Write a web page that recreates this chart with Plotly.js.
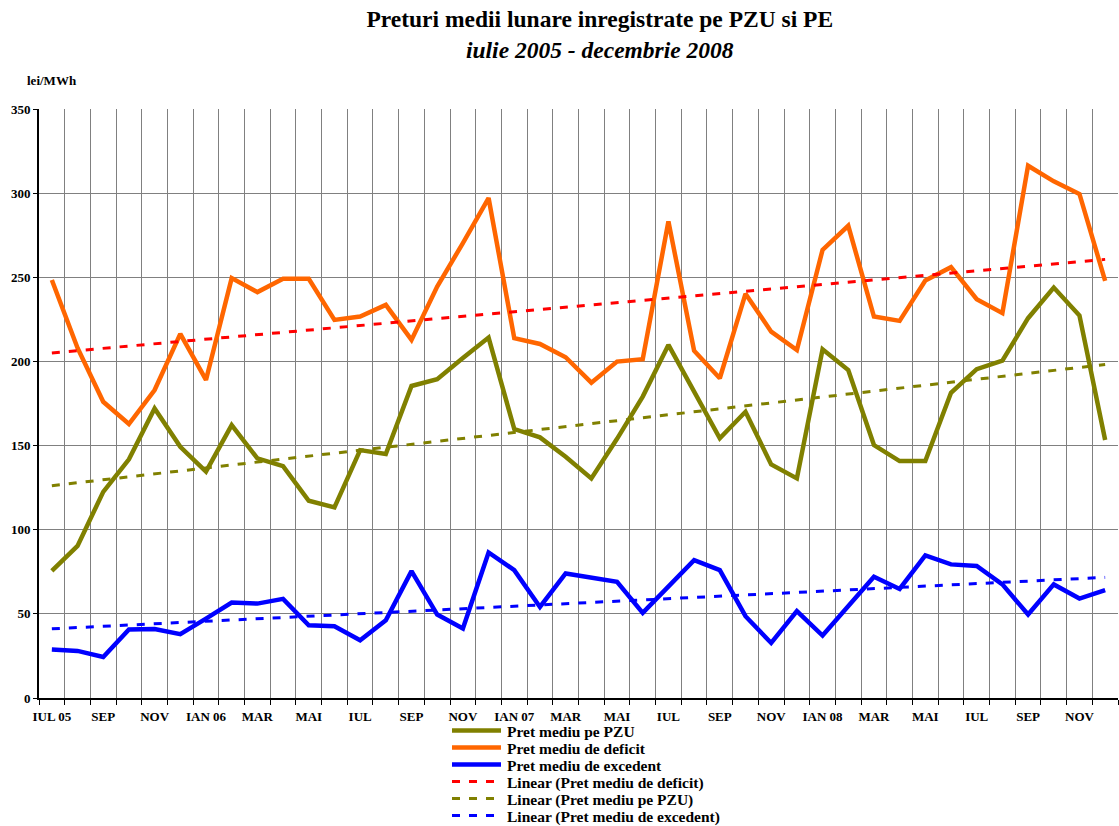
<!DOCTYPE html>
<html>
<head>
<meta charset="utf-8">
<script src="https://cdn.plot.ly/plotly-3.0.1.min.js"></script>
<style>html,body{margin:0;padding:0;background:#fff;}#chart{width:1119px;height:826px;}</style>
</head>
<body>
<div id="chart"></div>
<script>
// Tick labels (every second month, starting July 2005)
var tickLabels = ['IUL 05','SEP','NOV','IAN 06','MAR','MAI','IUL','SEP','NOV','IAN 07','MAR','MAI','IUL','SEP','NOV','IAN 08','MAR','MAI','IUL','SEP','NOV'];

// Monthly average prices, lei/MWh, July 2005 - December 2008
var pretPZU = [75.5,90.4,122.5,141.8,172.1,149.3,134.5,162.2,142.4,137.8,117.2,113.3,147.3,145.0,185.4,189.4,202.0,214.2,159.8,154.9,143.4,130.5,154.0,179.1,209.8,182.0,154.3,170.1,138.8,130.5,207.2,194.9,150.3,140.8,140.8,181.4,195.4,200.5,225.7,243.9,227.3,153.3];
var pretDeficit = [248.4,208.0,176.0,162.8,183.0,216.4,189.0,249.5,241.2,249.1,249.1,224.7,226.7,233.6,212.8,244.5,270.3,297.1,213.8,210.4,202.5,187.4,199.9,201.3,283.2,206.4,190.0,240.2,217.7,206.8,266.3,280.6,226.7,224.1,248.1,256.0,237.0,228.7,316.3,307.0,299.5,247.9];
var pretExcedent = [28.8,28.0,24.4,40.7,41.0,37.9,47.2,56.7,56.1,58.9,43.2,42.6,34.3,46.2,75.4,49.6,41.3,86.5,76.0,54.1,74.0,71.4,69.0,50.6,66.0,81.9,76.0,48.6,32.7,51.6,37.1,54.1,72.0,64.8,84.7,79.4,78.5,67.5,49.6,67.5,59.1,64.1];

// Legend entries (names, in the reference's order)
var legendNames = ['Pret mediu pe PZU','Pret mediu de deficit','Pret mediu de excedent','Linear (Pret mediu de deficit)','Linear (Pret mediu pe PZU)','Linear (Pret mediu de excedent)'];

var n = pretPZU.length;
var xs = [];
for (var i = 0; i < n; i++) xs.push(i);
var tickPos = [];
for (var k = 0; k < tickLabels.length; k++) tickPos.push(k * 2);

// least-squares linear trend (as Excel's "Linear" trendline)
function linfit(y) {
  var m = y.length, sx = 0, sy = 0, sxx = 0, sxy = 0;
  for (var i = 0; i < m; i++) { sx += i; sy += y[i]; sxx += i * i; sxy += i * y[i]; }
  var b = (m * sxy - sx * sy) / (m * sxx - sx * sx);
  var a = (sy - b * sx) / m;
  return y.map(function (_, i) { return a + b * i; });
}

var serif = 'Liberation Serif, Times New Roman, serif';
var DASH = '8px,9px';
var styles = [
  {color: '#808000', width: 4.5},
  {color: '#FF6600', width: 4.5},
  {color: '#0000FF', width: 4.5},
  {color: '#FF0000', width: 3, dash: DASH},
  {color: '#808000', width: 3, dash: DASH},
  {color: '#0000FF', width: 3, dash: DASH}
];
var series = [pretPZU, pretDeficit, pretExcedent, linfit(pretDeficit), linfit(pretPZU), linfit(pretExcedent)];

var traces = series.map(function (ys, j) {
  return {x: xs, y: ys, type: 'scatter', mode: 'lines', name: legendNames[j], line: styles[j], showlegend: false};
});

// plot area in pixels: x 39..1118, y 109..698
var L = 39, R = 1, T = 109, B = 128, W = 1119, H = 826;
var pw = W - L - R, ph = H - T - B;
function px(X) { return (X - L) / pw; }
function py(Y) { return (H - B - Y) / ph; }

var shapes = [], annotations = [];
var rowY0 = 730.5, rowStep = 17;
legendNames.forEach(function (nm, j) {
  var Y = rowY0 + j * rowStep;
  shapes.push({type: 'line', xref: 'paper', yref: 'paper', x0: px(452), x1: px(501), y0: py(Y), y1: py(Y),
    line: {color: styles[j].color, width: styles[j].dash ? 3 : 4.5, dash: styles[j].dash || 'solid'}});
  annotations.push({text: '<b>' + nm + '</b>', xref: 'paper', yref: 'paper', x: px(505), y: py(Y + 1), xanchor: 'left', yanchor: 'middle',
    showarrow: false, font: {family: serif, size: 15.5, color: '#000'}});
});
annotations.push({text: '<b>lei/MWh</b>', xref: 'paper', yref: 'paper', x: px(52), y: py(80), xanchor: 'center', yanchor: 'middle',
  showarrow: false, font: {family: serif, size: 13, color: '#000'}});

var layout = {
  width: W, height: H,
  margin: {l: L, r: R, t: T, b: B, autoexpand: false},
  paper_bgcolor: '#fff', plot_bgcolor: '#fff',
  font: {family: serif, color: '#000'},
  title: {
    text: '<b>Preturi medii lunare inregistrate pe PZU si PE</b><br><b><i>iulie 2005 - decembrie 2008</i></b>',
    font: {family: serif, size: 23.5, color: '#000'},
    x: 0.536, xref: 'container', xanchor: 'center',
    y: 0.967, yref: 'container', yanchor: 'top'
  },
  xaxis: {
    range: [-0.5, n - 0.5],
    tickmode: 'array', tickvals: tickPos, ticktext: tickLabels,
    ticks: '', showgrid: false, zeroline: false, ticklabelstandoff: 5,
    showline: true, linecolor: '#000', linewidth: 2,
    tickfont: {family: serif, size: 13, color: '#000', weight: 'bold'},
    minor: {tickmode: 'linear', tick0: -0.5, dtick: 1, ticks: 'outside', ticklen: 5, tickcolor: '#000', showgrid: true, gridcolor: '#808080', gridwidth: 1},
    fixedrange: true
  },
  yaxis: {
    range: [0, 350], dtick: 50,
    ticks: 'outside', ticklen: 4, tickcolor: '#000',
    showgrid: true, gridcolor: '#808080', gridwidth: 1,
    zeroline: false, showline: true, linecolor: '#000', linewidth: 2,
    tickfont: {family: serif, size: 13, color: '#000', weight: 'bold'},
    fixedrange: true
  },
  showlegend: false,
  shapes: shapes,
  annotations: annotations
};

Plotly.newPlot('chart', traces, layout, {displayModeBar: false, staticPlot: true});
</script>
</body>
</html>
